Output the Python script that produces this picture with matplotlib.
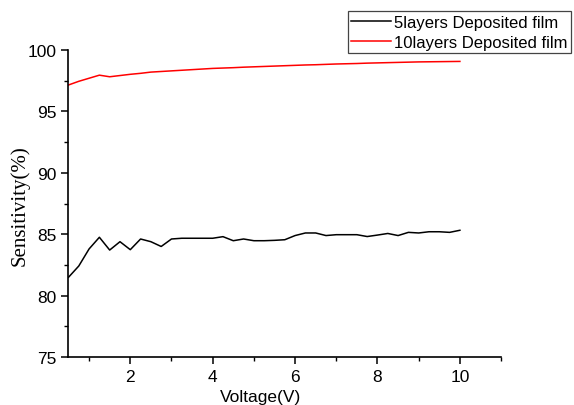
import matplotlib
matplotlib.use('Agg')
import matplotlib.pyplot as plt
import numpy as np
from matplotlib.ticker import MultipleLocator

plt.rcParams.update({
    'font.family': 'Liberation Sans',
    'font.size': 12,
    'axes.linewidth': 1.2,
    'xtick.direction': 'out',
    'ytick.direction': 'out',
    'xtick.major.size': 5,
    'ytick.major.size': 5,
    'xtick.minor.size': 3,
    'ytick.minor.size': 3,
    'xtick.major.width': 1.1,
    'ytick.major.width': 1.1,
    'xtick.minor.width': 1.0,
    'ytick.minor.width': 1.0,
})

# voltage sweep (V)
voltage = np.arange(0.5, 10.01, 0.25)

# sensitivity (%) of the 5-layer film
sens_5 = [81.49, 82.41, 83.80, 84.75, 83.71, 84.39, 83.74, 84.61, 84.39, 84.00,
          84.61, 84.67, 84.67, 84.67, 84.67, 84.80, 84.47, 84.61, 84.47, 84.47,
          84.50, 84.55, 84.89, 85.10, 85.10, 84.89, 84.96, 84.96, 84.96, 84.81,
          84.93, 85.06, 84.89, 85.15, 85.10, 85.20, 85.20, 85.15, 85.32]

# sensitivity (%) of the 10-layer film
sens_10 = [97.15, 97.45, 97.70, 97.95, 97.82, 97.92, 98.02, 98.10, 98.20, 98.25,
           98.30, 98.35, 98.40, 98.45, 98.50, 98.53, 98.56, 98.60, 98.63, 98.66,
           98.69, 98.72, 98.75, 98.78, 98.80, 98.83, 98.86, 98.88, 98.90, 98.93,
           98.95, 98.97, 98.99, 99.01, 99.03, 99.04, 99.05, 99.06, 99.07]

fig = plt.figure(figsize=(5.74, 4.06), dpi=100)
ax = fig.add_axes([0.1193, 0.1182, 0.7537, 0.7562])

ax.plot(voltage, sens_5, color='black', linewidth=1.1, label='5layers Deposited film')
ax.plot(voltage, sens_10, color='red', linewidth=1.1, label='10layers Deposited film')

ax.set_xlim(0.5, 11)
ax.set_ylim(75, 100)
ax.xaxis.set_major_locator(MultipleLocator(2))
ax.xaxis.set_minor_locator(MultipleLocator(1))
ax.yaxis.set_major_locator(MultipleLocator(5))
ax.yaxis.set_minor_locator(MultipleLocator(2.5))
ax.tick_params(labelsize=12.5)

ax.spines['top'].set_visible(False)
ax.spines['right'].set_visible(False)

ax.set_xlabel('Voltage(V)', fontsize=12.5, va='center')
ax.xaxis.set_label_coords(0.445, -0.13)
ax.set_ylabel('Sensitivity(%)', fontsize=15, family='Liberation Serif', va='center')
ax.yaxis.set_label_coords(-0.112, 0.495)

leg = fig.legend(loc='upper right', bbox_to_anchor=(571 / 574, 1 - 12 / 406),
                 borderaxespad=0, fontsize=12, fancybox=False, frameon=True,
                 edgecolor='#444444', framealpha=1, handlelength=2.35,
                 handletextpad=0.2, labelspacing=0.3, borderpad=0.22)
leg.get_frame().set_linewidth(0.9)

fig.savefig('out.png', dpi=100)
